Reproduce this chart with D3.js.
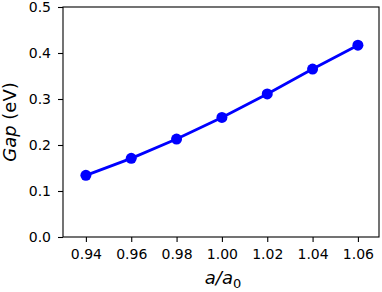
<!DOCTYPE html>
<html>
<head>
<meta charset="utf-8">
<script src="https://cdn.jsdelivr.net/npm/d3@7"></script>
<style>
body { margin: 0; background: #fff; }
text { font-family: "DejaVu Sans", sans-serif; }
</style>
</head>
<body>
<script>
// data
var ratios = [0.94, 0.96, 0.98, 1.00, 1.02, 1.04, 1.06];
var gaps = [0.134, 0.171, 0.213, 0.260, 0.311, 0.365, 0.417];
var xTicks = [0.94, 0.96, 0.98, 1.00, 1.02, 1.04, 1.06];
var yTicks = [0.0, 0.1, 0.2, 0.3, 0.4, 0.5];

var totalW = 382, totalH = 292;
var margin = {top: 7, right: 3, bottom: 55, left: 63};
var width = totalW - margin.left - margin.right;
var height = totalH - margin.top - margin.bottom;

var svg = d3.select("body").append("svg")
    .attr("width", totalW)
    .attr("height", totalH)
  .append("g")
    .attr("transform", "translate(" + margin.left + "," + margin.top + ")");

var x = d3.scaleLinear().domain([0.9299, 1.0693]).range([0, width]);
var y = d3.scaleLinear().domain([0, 0.5]).range([height, 0]);

// axes
var xAxis = svg.append("g")
    .attr("transform", "translate(0," + height + ")")
    .call(d3.axisBottom(x).tickValues(xTicks).tickFormat(d3.format(".2f")).tickSizeOuter(0).tickSize(5).tickPadding(7));
var yAxis = svg.append("g")
    .call(d3.axisLeft(y).tickValues(yTicks).tickFormat(d3.format(".1f")).tickSizeOuter(0).tickSize(5).tickPadding(7));

[xAxis, yAxis].forEach(function(a) {
  a.selectAll("text").style("font-size", "14px").attr("fill", "#000");
  a.selectAll("line").attr("stroke", "#000").attr("stroke-width", 1.1);
  a.select(".domain").remove();
});

// frame
svg.append("rect")
    .attr("width", width).attr("height", height)
    .attr("fill", "none").attr("stroke", "#000").attr("stroke-width", 1.1);

// line + markers
var line = d3.line()
    .x(function(d, i) { return x(ratios[i]); })
    .y(function(d) { return y(d); });

svg.append("path")
    .datum(gaps)
    .attr("d", line)
    .attr("fill", "none")
    .attr("stroke", "#0000ff")
    .attr("stroke-width", 2.8);

svg.selectAll("circle")
    .data(gaps)
    .enter().append("circle")
    .attr("cx", function(d, i) { return x(ratios[i]); })
    .attr("cy", function(d) { return y(d); })
    .attr("r", 5.5)
    .attr("fill", "#0000ff");

// axis labels
var xl = svg.append("text")
    .attr("x", width / 2 + 2)
    .attr("y", height + 47)
    .attr("text-anchor", "middle")
    .style("font-size", "18px");
xl.append("tspan").style("font-style", "italic").text("a/a");
xl.append("tspan").attr("dy", 4).style("font-size", "13px").text("0");

var yl = svg.append("text")
    .attr("transform", "translate(" + (-47) + "," + (height / 2) + ") rotate(-90)")
    .attr("text-anchor", "middle")
    .style("font-size", "18px");
yl.append("tspan").style("font-style", "italic").text("Gap");
yl.append("tspan").text(" (eV)");
</script>
</body>
</html>
